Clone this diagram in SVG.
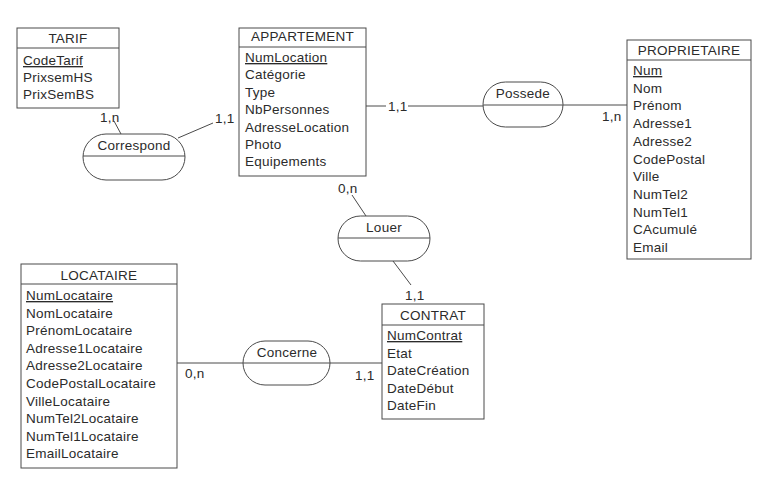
<svg xmlns="http://www.w3.org/2000/svg" width="784" height="499" viewBox="0 0 784 499">
<style>
text{font-family:"Liberation Sans",Arial,sans-serif;font-size:13.5px;fill:#2b2b2b;letter-spacing:0.25px}
.t{text-anchor:middle}
.k{text-decoration:underline}
.box{fill:#fff;stroke:#4a4a4a;stroke-width:1}
.div{stroke:#4a4a4a;stroke-width:1}
.c{stroke:#4a4a4a;stroke-width:1;fill:none}
</style>
<rect width="784" height="499" fill="#fff"/>
<g id="connectors">
<line class="c" x1="114" y1="121" x2="121" y2="134"/>
<line class="c" x1="178" y1="138" x2="213" y2="123"/>
<line class="c" x1="366" y1="106" x2="386" y2="106"/>
<line class="c" x1="408" y1="106" x2="483" y2="106"/>
<line class="c" x1="563" y1="105" x2="627" y2="105"/>
<line class="c" x1="352" y1="195" x2="366" y2="216"/>
<line class="c" x1="393" y1="261" x2="411" y2="285"/>
<line class="c" x1="177" y1="363" x2="243" y2="363"/>
<line class="c" x1="330" y1="363" x2="382" y2="363"/>
<text x="100" y="122">1,n</text>
<text x="215" y="123">1,1</text>
<text x="388" y="111">1,1</text>
<text x="602" y="121">1,n</text>
<text x="338" y="193">0,n</text>
<text x="405" y="300">1,1</text>
<text x="185" y="378">0,n</text>
<text x="355" y="380">1,1</text>
</g>
<g id="TARIF">
<rect class="box" x="17" y="28" width="102" height="80"/>
<line class="div" x1="17" y1="48" x2="119" y2="48"/>
<text class="t" x="68" y="43">TARIF</text>
<text class="k" x="23" y="65">CodeTarif</text>
<text x="23" y="82">PrixsemHS</text>
<text x="23" y="99">PrixSemBS</text>
</g>
<g id="APPARTEMENT">
<rect class="box" x="239" y="28" width="127" height="148"/>
<line class="div" x1="239" y1="47" x2="366" y2="47"/>
<text class="t" x="302.5" y="41">APPARTEMENT</text>
<text class="k" x="245" y="62">NumLocation</text>
<text x="245" y="79.4">Catégorie</text>
<text x="245" y="96.8">Type</text>
<text x="245" y="114.2">NbPersonnes</text>
<text x="245" y="131.6">AdresseLocation</text>
<text x="245" y="149">Photo</text>
<text x="245" y="166.4">Equipements</text>
</g>
<g id="PROPRIETAIRE">
<rect class="box" x="627" y="40" width="124" height="219"/>
<line class="div" x1="627" y1="60" x2="751" y2="60"/>
<text class="t" x="689" y="55">PROPRIETAIRE</text>
<text class="k" x="633" y="75">Num</text>
<text x="633" y="92.7">Nom</text>
<text x="633" y="110.4">Prénom</text>
<text x="633" y="128.1">Adresse1</text>
<text x="633" y="145.8">Adresse2</text>
<text x="633" y="163.5">CodePostal</text>
<text x="633" y="181.2">Ville</text>
<text x="633" y="198.9">NumTel2</text>
<text x="633" y="216.6">NumTel1</text>
<text x="633" y="234.3">CAcumulé</text>
<text x="633" y="252">Email</text>
</g>
<g id="LOCATAIRE">
<rect class="box" x="21" y="264" width="156" height="204"/>
<line class="div" x1="21" y1="284" x2="177" y2="284"/>
<text class="t" x="99" y="280">LOCATAIRE</text>
<text class="k" x="26" y="300">NumLocataire</text>
<text x="26" y="317.6">NomLocataire</text>
<text x="26" y="335.2">PrénomLocataire</text>
<text x="26" y="352.8">Adresse1Locataire</text>
<text x="26" y="370.4">Adresse2Locataire</text>
<text x="26" y="388">CodePostalLocataire</text>
<text x="26" y="405.6">VilleLocataire</text>
<text x="26" y="423.2">NumTel2Locataire</text>
<text x="26" y="440.8">NumTel1Locataire</text>
<text x="26" y="458.4">EmailLocataire</text>
</g>
<g id="CONTRAT">
<rect class="box" x="382" y="304" width="102" height="115"/>
<line class="div" x1="382" y1="325" x2="484" y2="325"/>
<text class="t" x="433" y="320">CONTRAT</text>
<text class="k" x="387" y="340">NumContrat</text>
<text x="387" y="357.5">Etat</text>
<text x="387" y="375">DateCréation</text>
<text x="387" y="392.5">DateDébut</text>
<text x="387" y="410">DateFin</text>
</g>
<g id="Correspond">
<rect class="box" x="83" y="134" width="102" height="46" rx="23" ry="23"/>
<line class="div" x1="83" y1="156" x2="185" y2="156"/>
<text class="t" x="134" y="150">Correspond</text>
</g>
<g id="Possede">
<rect class="box" x="483" y="82" width="80" height="45" rx="22.5" ry="22.5"/>
<line class="div" x1="483" y1="105" x2="563" y2="105"/>
<text class="t" x="523" y="98">Possede</text>
</g>
<g id="Louer">
<rect class="box" x="338" y="216" width="92" height="45" rx="22.5" ry="22.5"/>
<line class="div" x1="338" y1="238" x2="430" y2="238"/>
<text class="t" x="384" y="232">Louer</text>
</g>
<g id="Concerne">
<rect class="box" x="243" y="341" width="87" height="44" rx="22" ry="22"/>
<line class="div" x1="243" y1="363" x2="330" y2="363"/>
<text class="t" x="287" y="357">Concerne</text>
</g>
</svg>
